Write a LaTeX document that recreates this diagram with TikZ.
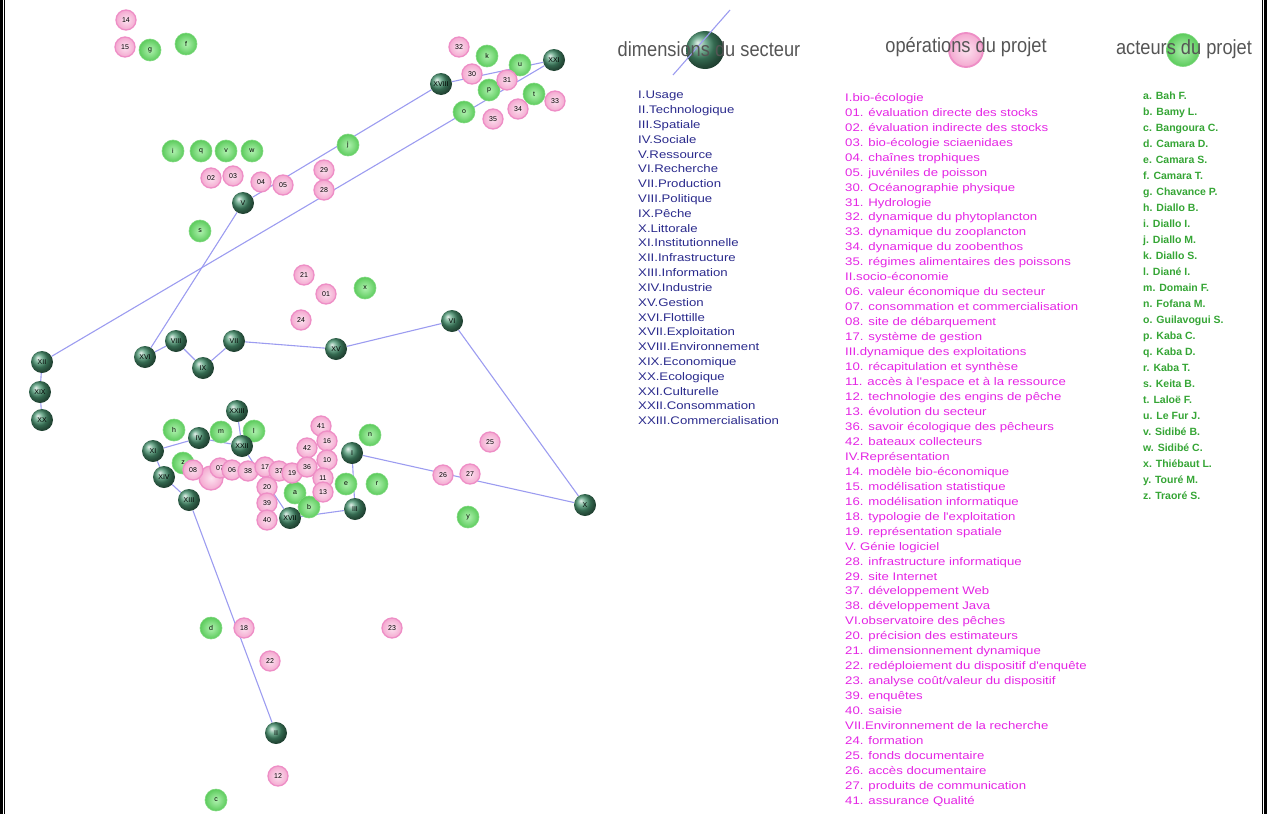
\documentclass[tikz,border=0pt]{standalone}
\usepackage{fontspec}
\setmainfont{Liberation Sans}
\newfontfamily\listfont[FakeStretch=1.2]{Liberation Sans}
\newfontfamily\legfont[FakeStretch=0.89]{Liberation Sans}
\usetikzlibrary{backgrounds}

\definecolor{dimgreen}{HTML}{4A9672}
\definecolor{actin}{HTML}{B0F2B0}
\definecolor{actout}{HTML}{5CCB5C}
\definecolor{actrim}{HTML}{7ED87E}
\definecolor{opin}{HTML}{FCE2EF}
\definecolor{opout}{HTML}{F4A8D0}
\definecolor{oprim}{HTML}{EE8EC6}
\definecolor{linkblue}{HTML}{9C9CF0}
\definecolor{dimtext}{HTML}{2A2A8C}
\definecolor{optext}{HTML}{E424E4}
\definecolor{acttext}{HTML}{35A535}
\definecolor{legtext}{HTML}{555555}
\newcommand\tinylab{\fontsize{7}{7}\selectfont}

\begin{document}
\begin{tikzpicture}[x=1pt,y=-1pt,
    dim/.style={circle,inner sep=0pt,minimum size=22pt,shade,ball color=dimgreen,font=\tinylab},
    act/.style={circle,inner sep=0pt,minimum size=22pt,draw=actrim,line width=0.6pt,inner color=actin,outer color=actout,font=\tinylab},
    op/.style={circle,inner sep=0pt,minimum size=20pt,draw=oprim,line width=1.3pt,inner color=opin,outer color=opout,font=\tinylab},
    link/.style={draw=linkblue,line width=1.1pt},
    liste/.style={anchor=north west,align=left,inner sep=0pt},
    legende/.style={font=\legfont\fontsize{20.5}{22}\selectfont,text=legtext}]
    \useasboundingbox (0,0) rectangle (1267,814);

    % cornice
    \fill (0,0) rectangle (3,814);
    \draw[line width=0.8pt] (4.5,0) -- (4.5,814);
    \fill (1264,0) rectangle (1267,814);
    \draw[line width=0.8pt] (1262,0) -- (1262,814);

    % acteurs
    \node[act] (ag) at (150,50) {g};
    \node[act] (af) at (186,44) {f};
    \node[act] (ai) at (173,151) {i};
    \node[act] (aq) at (201,151) {q};
    \node[act] (av) at (226,151) {v};
    \node[act] (aw) at (252,151) {w};
    \node[act] (as) at (200,231) {s};
    \node[act] (aj) at (348,145) {j};
    \node[act] (ak) at (487,56) {k};
    \node[act] (au) at (520,65) {u};
    \node[act] (ap) at (489,90) {p};
    \node[act] (at) at (534,94) {t};
    \node[act] (ao) at (464,112) {o};
    \node[act] (ax) at (365,288) {x};
    \node[act] (ah) at (174,430) {h};
    \node[act] (am) at (221,432) {m};
    \node[act] (al) at (254,431) {l};
    \node[act] (az) at (183,463) {z};
    \node[act] (aa) at (295,493) {a};
    \node[act] (ab) at (309,507) {b};
    \node[act] (an) at (370,435) {n};
    \node[act] (ae) at (346,484) {e};
    \node[act] (ar) at (377,484) {r};
    \node[act] (ay) at (468,517) {y};
    \node[act] (ad) at (211,628) {d};
    \node[act] (ac) at (216,800) {c};

    % operations
    \node[op] (o14) at (126,20) {14};
    \node[op] (o15) at (125,47) {15};
    \node[op] (o32) at (459,47) {32};
    \node[op] (o30) at (472,74) {30};
    \node[op] (o31) at (507,80) {31};
    \node[op] (o33) at (555,101) {33};
    \node[op] (o34) at (518,109) {34};
    \node[op] (o35) at (493,119) {35};
    \node[op] (o02) at (211,178) {02};
    \node[op] (o03) at (233,176) {03};
    \node[op] (o04) at (261,182) {04};
    \node[op] (o05) at (283,185) {05};
    \node[op] (o29) at (324,170) {29};
    \node[op] (o28) at (324,190) {28};
    \node[op] (o21) at (304,275) {21};
    \node[op] (o01) at (326,294) {01};
    \node[op] (o24) at (301,320) {24};
    \node[op,minimum size=24pt] (oblob) at (211,478) {};
    \node[op] (o08) at (193,470) {08};
    \node[op] (o07) at (220,468) {07};
    \node[op] (o06) at (232,470) {06};
    \node[op] (o38) at (248,471) {38};
    \node[op] (o17) at (265,467) {17};
    \node[op] (o37) at (279,471) {37};
    \node[op] (o19) at (292,473) {19};
    \node[op] (o20) at (267,487) {20};
    \node[op] (o39) at (267,503) {39};
    \node[op] (o40) at (267,520) {40};
    \node[op] (o41) at (321,426) {41};
    \node[op] (o42) at (307,448) {42};
    \node[op] (o16) at (327,441) {16};
    \node[op] (o36) at (307,467) {36};
    \node[op] (o10) at (327,460) {10};
    \node[op] (o11) at (323,478) {11};
    \node[op] (o13) at (323,492) {13};
    \node[op] (o25) at (490,442) {25};
    \node[op] (o26) at (443,475) {26};
    \node[op] (o27) at (470,474) {27};
    \node[op] (o18) at (244,628) {18};
    \node[op] (o22) at (270,661) {22};
    \node[op] (o23) at (392,628) {23};
    \node[op] (o12) at (278,776) {12};

    % dimensions
    \node[dim] (dI) at (352,453) {I};
    \node[dim] (dII) at (276,733) {II};
    \node[dim] (dIII) at (355,509) {III};
    \node[dim] (dIV) at (199,438) {IV};
    \node[dim] (dV) at (243,203) {V};
    \node[dim] (dVI) at (452,321) {VI};
    \node[dim] (dVII) at (234,341) {VII};
    \node[dim] (dVIII) at (176,341) {VIII};
    \node[dim] (dIX) at (203,368) {IX};
    \node[dim] (dX) at (585,505) {X};
    \node[dim] (dXI) at (153,451) {XI};
    \node[dim] (dXII) at (42,362) {XII};
    \node[dim] (dXIII) at (189,500) {XIII};
    \node[dim] (dXIV) at (164,477) {XIV};
    \node[dim] (dXV) at (336,349) {XV};
    \node[dim] (dXVI) at (145,357) {XVI};
    \node[dim] (dXVII) at (290,518) {XVII};
    \node[dim] (dXVIII) at (441,84) {XVIII};
    \node[dim] (dXIX) at (40,392) {XIX};
    \node[dim] (dXX) at (42,420) {XX};
    \node[dim] (dXXI) at (554,60) {XXI};
    \node[dim] (dXXII) at (242,446) {XXII};
    \node[dim] (dXXIII) at (237,411) {XXIII};

    % liens entre dimensions
    \begin{scope}[on background layer]
        \draw[link] (dXII) -- (dXXI);
        \draw[link] (dXVI) -- (dV) -- (dXVIII) -- (dXXI);
        \draw[link] (dXII) -- (dXIX) -- (dXX);
        \draw[link] (dXVI) -- (dVIII) -- (dIX) -- (dVII) -- (dXV) -- (dVI) -- (dX);
        \draw[link] (dX) -- (dI) -- (dIII) -- (dXVII) -- (dXXII);
        \draw[link] (dXXIII) -- (dXXII) -- (dIV) -- (dXI) -- (dXIV) -- (dXIII) -- (dII);
    \end{scope}

    % legende
    \coordinate (legA) at (673,75);
    \coordinate (legB) at (730,10);
    \node[dim,minimum size=38pt] (ldim) at (705,50) {};
    \node[op,minimum size=34pt,line width=1.8pt] (lop) at (966,50) {};
    \node[act,minimum size=33pt] (lact) at (1183,50) {};
    \draw[link] (legA) -- (legB);
    \node[legende] (tdim) at (709,49) {dimensions du secteur};
    \node[legende] (top) at (966,47) {opérations du projet};
    \node[legende] (tact) at (1184,49) {acteurs du projet};

    % listes
    \node[liste,font=\listfont\fontsize{11}{14.82}\selectfont,text=dimtext] (ldims) at (638,91) {%
        I.Usage\\ II.Technologique\\ III.Spatiale\\ IV.Sociale\\ V.Ressource\\
        VI.Recherche\\ VII.Production\\ VIII.Politique\\ IX.Pêche\\ X.Littorale\\
        XI.Institutionnelle\\ XII.Infrastructure\\ XIII.Information\\ XIV.Industrie\\
        XV.Gestion\\ XVI.Flottille\\ XVII.Exploitation\\ XVIII.Environnement\\
        XIX.Economique\\ XX.Ecologique\\ XXI.Culturelle\\ XXII.Consommation\\
        XXIII.Commercialisation};
    \node[liste,font=\listfont\fontsize{11}{14.96}\selectfont,text=optext] (lops) at (845,93) {%
        I.bio-écologie\\
        01. évaluation directe des stocks\\
        02. évaluation indirecte des stocks\\
        03. bio-écologie sciaenidaes\\
        04. chaînes trophiques\\
        05. juvéniles de poisson\\
        30. Océanographie physique\\
        31. Hydrologie\\
        32. dynamique du phytoplancton\\
        33. dynamique du zooplancton\\
        34. dynamique du zoobenthos\\
        35. régimes alimentaires des poissons\\
        II.socio-économie\\
        06. valeur économique du secteur\\
        07. consommation et commercialisation\\
        08. site de débarquement\\
        17. système de gestion\\
        III.dynamique des exploitations\\
        10. récapitulation et synthèse\\
        11. accès à l'espace et à la ressource\\
        12. technologie des engins de pêche\\
        13. évolution du secteur\\
        36. savoir écologique des pêcheurs\\
        42. bateaux collecteurs\\
        IV.Représentation\\
        14. modèle bio-économique\\
        15. modélisation statistique\\
        16. modélisation informatique\\
        18. typologie de l'exploitation\\
        19. représentation spatiale\\
        V. Génie logiciel\\
        28. infrastructure informatique\\
        29. site Internet\\
        37. développement Web\\
        38. développement Java\\
        VI.observatoire des pêches\\
        20. précision des estimateurs\\
        21. dimensionnement dynamique\\
        22. redéploiement du dispositif d'enquête\\
        23. analyse coût/valeur du dispositif\\
        39. enquêtes\\
        40. saisie\\
        VII.Environnement de la recherche\\
        24. formation\\
        25. fonds documentaire\\
        26. accès documentaire\\
        27. produits de communication\\
        41. assurance Qualité};
    \node[liste,font=\bfseries\fontsize{10.5}{16}\selectfont,text=acttext] (lacts) at (1143,92) {%
        a. Bah F.\\ b. Bamy L.\\ c. Bangoura C.\\ d. Camara D.\\ e. Camara S.\\
        f. Camara T.\\ g. Chavance P.\\ h. Diallo B.\\ i. Diallo I.\\ j. Diallo M.\\
        k. Diallo S.\\ l. Diané I.\\ m. Domain F.\\ n. Fofana M.\\ o. Guilavogui S.\\
        p. Kaba C.\\ q. Kaba D.\\ r. Kaba T.\\ s. Keita B.\\ t. Laloë F.\\
        u. Le Fur J.\\ v. Sidibé B.\\ w. Sidibé C.\\ x. Thiébaut L.\\ y. Touré M.\\
        z. Traoré S.};
\end{tikzpicture}
\end{document}
